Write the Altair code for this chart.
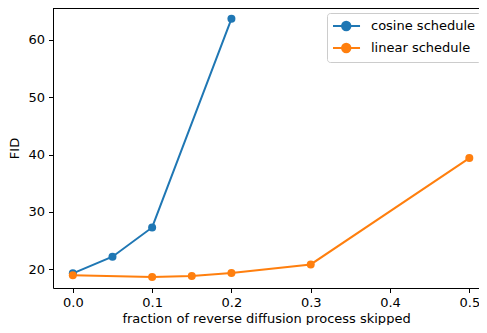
import altair as alt
import pandas as pd

cos_x = [0.0, 0.05, 0.1, 0.2]
cos_y = [19.3, 22.2, 27.3, 63.7]
lin_x = [0.0, 0.1, 0.15, 0.2, 0.3, 0.5]
lin_y = [18.95, 18.65, 18.83, 19.35, 20.85, 39.4]
series = ["cosine schedule", "linear schedule"]
colors = ["#1f77b4", "#ff7f0e"]
x_ticks = [0.0, 0.1, 0.2, 0.3, 0.4, 0.5]
y_ticks = [20, 30, 40, 50, 60]

df = pd.concat([
    pd.DataFrame({"x": cos_x, "y": cos_y, "s": series[0]}),
    pd.DataFrame({"x": lin_x, "y": lin_y, "s": series[1]}),
])

FONT = "DejaVu Sans"
W, H = 426, 280
# legend glyph: line with a circle marker, left-aligned to the symbol box
sym = "M-1,0H2.86M1.49,0A0.6,0.6 0 1,1 0.29,0A0.6,0.6 0 1,1 1.49,0Z"

xscale = alt.Scale(domain=[-0.025, 0.5122], nice=False, zero=False)
yscale = alt.Scale(domain=[16.74, 65.58], nice=False, zero=False)

xenc = alt.X("x:Q", scale=xscale,
             axis=alt.Axis(values=x_ticks, format=".1f",
                           title="fraction of reverse diffusion process skipped"))
yenc = alt.Y("y:Q", scale=yscale, axis=alt.Axis(values=y_ticks, title="FID"))
cenc = alt.Color("s:N", scale=alt.Scale(domain=series, range=colors),
                 legend=alt.Legend(title=None, orient="none", legendX=274, legendY=5,
                                   symbolType=sym, symbolSize=196, symbolStrokeWidth=2,
                                   labelFontSize=13, labelFont=FONT, labelColor="black",
                                   padding=5, rowPadding=4, labelOffset=23,
                                   strokeColor="#cccccc", fillColor="rgba(255,255,255,0.8)",
                                   cornerRadius=3))

base = alt.Chart(df)
lines = base.mark_line(strokeWidth=2).encode(x=xenc, y=yenc, color=cenc, detail="s:N")
pts = base.mark_point(filled=True, size=64, opacity=1).encode(x=xenc, y=yenc, color=cenc)
# top spine of the axes frame
spine = alt.Chart(pd.DataFrame({"k": [0]})).mark_rule(color="black", strokeWidth=1).encode(
    y=alt.value(0.5), x=alt.value(0), x2=alt.value(W))

chart = alt.layer(lines, pts, spine).properties(
    width=W, height=H,
    autosize=alt.AutoSizeParams(type="none"),
    padding={"left": 45, "top": 0, "right": 0, "bottom": 37},
).configure_view(stroke=None).configure_axis(
    domainColor="black", tickColor="black", labelColor="black", titleColor="black",
    labelFont=FONT, titleFont=FONT, labelFontSize=13, titleFontSize=13,
    titleFontWeight="normal", grid=False, tickSize=4.5, labelPadding=4, domainWidth=1,
).configure_axisY(titlePadding=6).configure_axisX(titlePadding=3)

chart.save("out.html", embed_options={"renderer": "svg", "actions": False})
